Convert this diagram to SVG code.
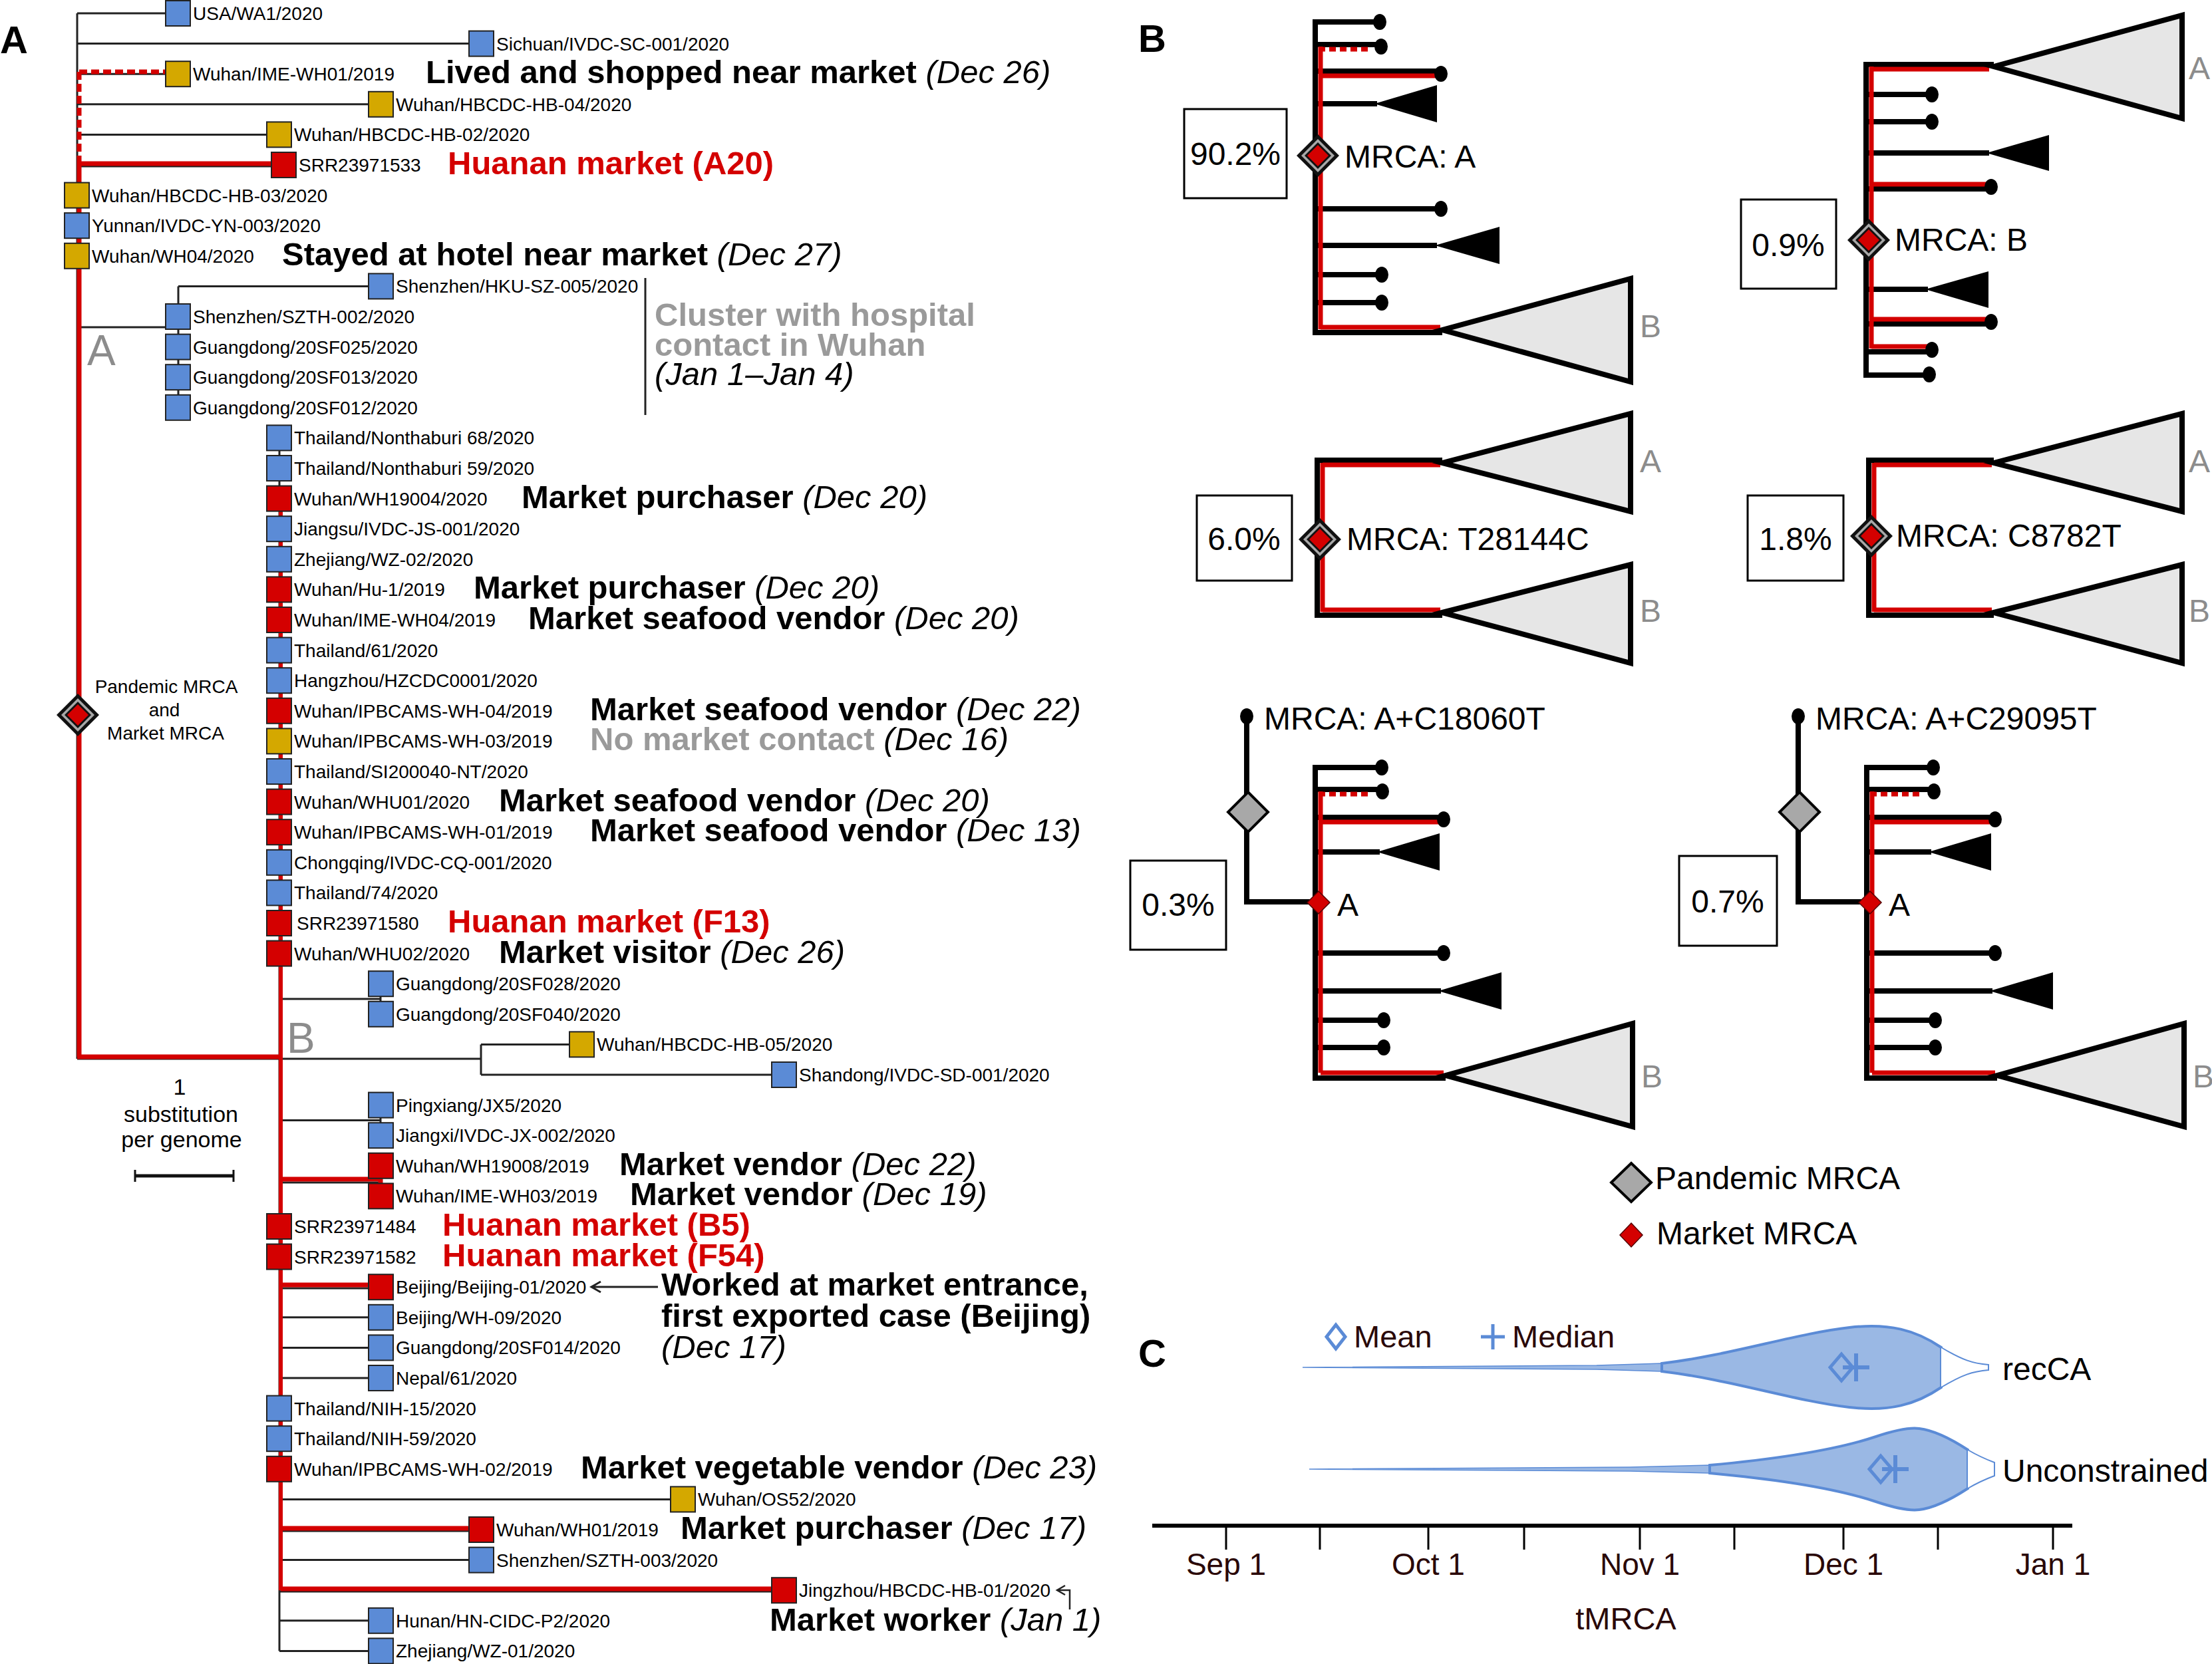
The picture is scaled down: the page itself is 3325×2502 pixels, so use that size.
<svg xmlns="http://www.w3.org/2000/svg" width="3325" height="2502" viewBox="0 0 3325 2502">
<style>
text{font-family:"Liberation Sans",Arial,Helvetica,sans-serif}
.tl{font-size:28px;fill:#000}
.ann{font-size:49px;font-weight:bold;fill:#000}
.it{font-style:italic;font-weight:normal}
.redt{fill:#d40000}
.grayt{fill:#9a9a9a}
.pl{font-size:58px;font-weight:bold;fill:#000}
.big{font-size:64px;fill:#8c8c8c}
.bt{font-size:48px;fill:#000}
.bg{font-size:48px;fill:#8c8c8c}
.ct{font-size:47px;fill:#2a0808}
.sq{stroke:#222;stroke-width:2}
.b{fill:#5b8bd6}.g{fill:#d4a800}.r{fill:#d40000}
.ln{stroke:#222;stroke-width:3;fill:none}
.rl{stroke:#d40000;stroke-width:7;fill:none}
.rd{stroke:#d40000;stroke-width:7;fill:none;stroke-dasharray:12 6}
.bk{stroke:#000;stroke-width:8;fill:none}
.br{stroke:#d40000;stroke-width:7;fill:none}
.brd{stroke:#d40000;stroke-width:7;fill:none;stroke-dasharray:10 6}
.clade{fill:#e6e6e6;stroke:#000;stroke-width:8}
.box{fill:#fff;stroke:#000;stroke-width:3}
.vio{fill:#9ab8e4;stroke:#5b8bd6;stroke-width:4}
.vt{fill:#9ab8e4;stroke:#5b8bd6;stroke-width:1.5}
.vw{fill:#fff;stroke:#5b8bd6;stroke-width:2}
.mk{fill:none;stroke:#5b8bd6;stroke-width:5}
</style>
<defs>
<g id="dmd">
<polygon points="0,-32 32,0 0,32 -32,0" fill="#111"/>
<polygon points="0,-25 25,0 0,25 -25,0" fill="#a8a8a8"/>
<polygon points="0,-20 20,0 0,20 -20,0" fill="#111"/>
<polygon points="0,-16 16,0 0,16 -16,0" fill="#d40000"/>
</g>
</defs>
<rect width="3325" height="2502" fill="#fff"/>

<!-- ============ PANEL A ============ -->
<text class="pl" x="0" y="80">A</text>
<g id="connectorsA">
<path class="ln" d="M116,20 V1592 M116,20 H249 M116,65.6 H705 M116,111.2 H249 M116,156.8 H554 M116,202.4 H401 M116,250 H408 M116,492 H268 M268,430.4 V612.8 M268,430.4 H554 M116,1592 H723 M723,1570.4 V1616 M723,1570.4 H856 M723,1616 H1160 M420,658.4 V2482.4 M420,1502 H572 M572,1479.2 V1524.8 M420,1684.4 H572 M572,1661.6 V1707.2 M420,1778 H572 M572,1752.8 V1798.4 M420,1937 H554 M420,1980.8 H554 M420,2026.4 H554 M420,2072 H554 M420,2254.4 H1008 M420,2302 H705 M420,2345.6 H705 M420,2393 H1160 M420,2436.8 H554 M420,2482.4 H554"/>
<path class="rd" d="M119,108 H249 M119,108 V246"/>
<path class="rl" d="M119,246 V1589 M116,246 H408 M116,1589 H422 M572,1752 V1798 M422,1773 H572 M422,1932 H554 M422,2298 H705 M422,2389 H1160"/>
<path class="rl" style="stroke-width:6" d="M422,749.6 V2391.2"/>
<path class="ln" d="M970,418 V624"/>
<path class="ln" d="M989,1935 H890 M903,1927 L889,1935 L903,1943"/>
<path class="ln" style="stroke-width:2.5" d="M1608,2420 V2391 H1590 M1601,2384 L1589,2391 L1601,2398"/>
<path stroke="#111" stroke-width="5" d="M202,1768 H352"/>
<path stroke="#111" stroke-width="3" d="M203,1759 V1777 M351,1759 V1777"/>
</g>

<g id="taxa">
<g id="t0"><rect class="sq b" x="249" y="1" width="37" height="38"/><text class="tl" x="290" y="30">USA/WA1/2020</text></g>
<g id="t1"><rect class="sq b" x="705" y="46.6" width="37" height="38"/><text class="tl" x="746" y="75.6">Sichuan/IVDC-SC-001/2020</text></g>
<g id="t2"><rect class="sq g" x="249" y="92.2" width="37" height="38"/><text class="tl" x="290" y="121.2">Wuhan/IME-WH01/2019</text></g>
<g id="t3"><rect class="sq g" x="554" y="137.8" width="37" height="38"/><text class="tl" x="595" y="166.8">Wuhan/HBCDC-HB-04/2020</text></g>
<g id="t4"><rect class="sq g" x="401" y="183.4" width="37" height="38"/><text class="tl" x="442" y="212.4">Wuhan/HBCDC-HB-02/2020</text></g>
<g id="t5"><rect class="sq r" x="408" y="229" width="37" height="38"/><text class="tl" x="449" y="258">SRR23971533</text></g>
<g id="t6"><rect class="sq g" x="97" y="274.6" width="37" height="38"/><text class="tl" x="138" y="303.6">Wuhan/HBCDC-HB-03/2020</text></g>
<g id="t7"><rect class="sq b" x="97" y="320.2" width="37" height="38"/><text class="tl" x="138" y="349.2">Yunnan/IVDC-YN-003/2020</text></g>
<g id="t8"><rect class="sq g" x="97" y="365.8" width="37" height="38"/><text class="tl" x="138" y="394.8">Wuhan/WH04/2020</text></g>
<g id="t9"><rect class="sq b" x="554" y="411.4" width="37" height="38"/><text class="tl" x="595" y="440.4">Shenzhen/HKU-SZ-005/2020</text></g>
<g id="t10"><rect class="sq b" x="249" y="457" width="37" height="38"/><text class="tl" x="290" y="486">Shenzhen/SZTH-002/2020</text></g>
<g id="t11"><rect class="sq b" x="249" y="502.6" width="37" height="38"/><text class="tl" x="290" y="531.6">Guangdong/20SF025/2020</text></g>
<g id="t12"><rect class="sq b" x="249" y="548.2" width="37" height="38"/><text class="tl" x="290" y="577.2">Guangdong/20SF013/2020</text></g>
<g id="t13"><rect class="sq b" x="249" y="593.8" width="37" height="38"/><text class="tl" x="290" y="622.8">Guangdong/20SF012/2020</text></g>
<g id="t14"><rect class="sq b" x="401" y="639.4" width="37" height="38"/><text class="tl" x="442" y="668.4">Thailand/Nonthaburi 68/2020</text></g>
<g id="t15"><rect class="sq b" x="401" y="685" width="37" height="38"/><text class="tl" x="442" y="714">Thailand/Nonthaburi 59/2020</text></g>
<g id="t16"><rect class="sq r" x="401" y="730.6" width="37" height="38"/><text class="tl" x="442" y="759.6">Wuhan/WH19004/2020</text></g>
<g id="t17"><rect class="sq b" x="401" y="776.2" width="37" height="38"/><text class="tl" x="442" y="805.2">Jiangsu/IVDC-JS-001/2020</text></g>
<g id="t18"><rect class="sq b" x="401" y="821.8" width="37" height="38"/><text class="tl" x="442" y="850.8">Zhejiang/WZ-02/2020</text></g>
<g id="t19"><rect class="sq r" x="401" y="867.4" width="37" height="38"/><text class="tl" x="442" y="896.4">Wuhan/Hu-1/2019</text></g>
<g id="t20"><rect class="sq r" x="401" y="913" width="37" height="38"/><text class="tl" x="442" y="942">Wuhan/IME-WH04/2019</text></g>
<g id="t21"><rect class="sq b" x="401" y="958.6" width="37" height="38"/><text class="tl" x="442" y="987.6">Thailand/61/2020</text></g>
<g id="t22"><rect class="sq b" x="401" y="1004.2" width="37" height="38"/><text class="tl" x="442" y="1033.2">Hangzhou/HZCDC0001/2020</text></g>
<g id="t23"><rect class="sq r" x="401" y="1049.8" width="37" height="38"/><text class="tl" x="442" y="1078.8">Wuhan/IPBCAMS-WH-04/2019</text></g>
<g id="t24"><rect class="sq g" x="401" y="1095.4" width="37" height="38"/><text class="tl" x="442" y="1124.4">Wuhan/IPBCAMS-WH-03/2019</text></g>
<g id="t25"><rect class="sq b" x="401" y="1141" width="37" height="38"/><text class="tl" x="442" y="1170">Thailand/SI200040-NT/2020</text></g>
<g id="t26"><rect class="sq r" x="401" y="1186.6" width="37" height="38"/><text class="tl" x="442" y="1215.6">Wuhan/WHU01/2020</text></g>
<g id="t27"><rect class="sq r" x="401" y="1232.2" width="37" height="38"/><text class="tl" x="442" y="1261.2">Wuhan/IPBCAMS-WH-01/2019</text></g>
<g id="t28"><rect class="sq b" x="401" y="1277.8" width="37" height="38"/><text class="tl" x="442" y="1306.8">Chongqing/IVDC-CQ-001/2020</text></g>
<g id="t29"><rect class="sq b" x="401" y="1323.4" width="37" height="38"/><text class="tl" x="442" y="1352.4">Thailand/74/2020</text></g>
<g id="t30"><rect class="sq r" x="401" y="1369" width="37" height="38"/><text class="tl" x="446" y="1398">SRR23971580</text></g>
<g id="t31"><rect class="sq r" x="401" y="1414.6" width="37" height="38"/><text class="tl" x="442" y="1443.6">Wuhan/WHU02/2020</text></g>
<g id="t32"><rect class="sq b" x="554" y="1460.2" width="37" height="38"/><text class="tl" x="595" y="1489.2">Guangdong/20SF028/2020</text></g>
<g id="t33"><rect class="sq b" x="554" y="1505.8" width="37" height="38"/><text class="tl" x="595" y="1534.8">Guangdong/20SF040/2020</text></g>
<g id="t34"><rect class="sq g" x="856" y="1551.4" width="37" height="38"/><text class="tl" x="897" y="1580.4">Wuhan/HBCDC-HB-05/2020</text></g>
<g id="t35"><rect class="sq b" x="1160" y="1597" width="37" height="38"/><text class="tl" x="1201" y="1626">Shandong/IVDC-SD-001/2020</text></g>
<g id="t36"><rect class="sq b" x="554" y="1642.6" width="37" height="38"/><text class="tl" x="595" y="1671.6">Pingxiang/JX5/2020</text></g>
<g id="t37"><rect class="sq b" x="554" y="1688.2" width="37" height="38"/><text class="tl" x="595" y="1717.2">Jiangxi/IVDC-JX-002/2020</text></g>
<g id="t38"><rect class="sq r" x="554" y="1733.8" width="37" height="38"/><text class="tl" x="595" y="1762.8">Wuhan/WH19008/2019</text></g>
<g id="t39"><rect class="sq r" x="554" y="1779.4" width="37" height="38"/><text class="tl" x="595" y="1808.4">Wuhan/IME-WH03/2019</text></g>
<g id="t40"><rect class="sq r" x="401" y="1825" width="37" height="38"/><text class="tl" x="442" y="1854">SRR23971484</text></g>
<g id="t41"><rect class="sq r" x="401" y="1870.6" width="37" height="38"/><text class="tl" x="442" y="1899.6">SRR23971582</text></g>
<g id="t42"><rect class="sq r" x="554" y="1916.2" width="37" height="38"/><text class="tl" x="595" y="1945.2">Beijing/Beijing-01/2020</text></g>
<g id="t43"><rect class="sq b" x="554" y="1961.8" width="37" height="38"/><text class="tl" x="595" y="1990.8">Beijing/WH-09/2020</text></g>
<g id="t44"><rect class="sq b" x="554" y="2007.4" width="37" height="38"/><text class="tl" x="595" y="2036.4">Guangdong/20SF014/2020</text></g>
<g id="t45"><rect class="sq b" x="554" y="2053" width="37" height="38"/><text class="tl" x="595" y="2082">Nepal/61/2020</text></g>
<g id="t46"><rect class="sq b" x="401" y="2098.6" width="37" height="38"/><text class="tl" x="442" y="2127.6">Thailand/NIH-15/2020</text></g>
<g id="t47"><rect class="sq b" x="401" y="2144.2" width="37" height="38"/><text class="tl" x="442" y="2173.2">Thailand/NIH-59/2020</text></g>
<g id="t48"><rect class="sq r" x="401" y="2189.8" width="37" height="38"/><text class="tl" x="442" y="2218.8">Wuhan/IPBCAMS-WH-02/2019</text></g>
<g id="t49"><rect class="sq g" x="1008" y="2235.4" width="37" height="38"/><text class="tl" x="1049" y="2264.4">Wuhan/OS52/2020</text></g>
<g id="t50"><rect class="sq r" x="705" y="2281" width="37" height="38"/><text class="tl" x="746" y="2310">Wuhan/WH01/2019</text></g>
<g id="t51"><rect class="sq b" x="705" y="2326.6" width="37" height="38"/><text class="tl" x="746" y="2355.6">Shenzhen/SZTH-003/2020</text></g>
<g id="t52"><rect class="sq r" x="1160" y="2372.2" width="37" height="38"/><text class="tl" x="1201" y="2401.2">Jingzhou/HBCDC-HB-01/2020</text></g>
<g id="t53"><rect class="sq b" x="554" y="2417.8" width="37" height="38"/><text class="tl" x="595" y="2446.8">Hunan/HN-CIDC-P2/2020</text></g>
<g id="t54"><rect class="sq b" x="554" y="2463.4" width="37" height="38"/><text class="tl" x="595" y="2492.4">Zhejiang/WZ-01/2020</text></g>
</g>

<g id="mrcaA">
<use href="#dmd" x="117" y="1075"/>
<text class="tl" x="250" y="1042" text-anchor="middle">Pandemic MRCA</text>
<text class="tl" x="247" y="1077" text-anchor="middle">and</text>
<text class="tl" x="249" y="1112" text-anchor="middle">Market MRCA</text>
</g>
<g id="cladeLabelsA">
<text class="big" x="131" y="549">A</text>
<text class="big" x="431" y="1583">B</text>
</g>
<g id="scalebar">
<text class="tl" style="font-size:34px" x="270" y="1646" text-anchor="middle">1</text>
<text class="tl" style="font-size:34px" x="272" y="1687" text-anchor="middle">substitution</text>
<text class="tl" style="font-size:34px" x="273" y="1725" text-anchor="middle">per genome</text>
</g>

<g id="annotations">
<text class="ann" x="640" y="125.2">Lived and shopped near market <tspan class="it">(Dec 26)</tspan></text>
<text class="ann redt" x="673" y="262">Huanan market (A20)</text>
<text class="ann" x="424" y="398.8">Stayed at hotel near market <tspan class="it">(Dec 27)</tspan></text>
<text class="ann grayt" x="984" y="490">Cluster with hospital</text>
<text class="ann grayt" x="984" y="534.5">contact in Wuhan</text>
<text class="ann it" x="984" y="579">(Jan 1–Jan 4)</text>
<text class="ann" x="784" y="763.6">Market purchaser <tspan class="it">(Dec 20)</tspan></text>
<text class="ann" x="712" y="900.4">Market purchaser <tspan class="it">(Dec 20)</tspan></text>
<text class="ann" x="794" y="946">Market seafood vendor <tspan class="it">(Dec 20)</tspan></text>
<text class="ann" x="887" y="1082.8">Market seafood vendor <tspan class="it">(Dec 22)</tspan></text>
<text class="ann grayt" x="887" y="1128.4">No market contact <tspan class="it" fill="#000">(Dec 16)</tspan></text>
<text class="ann" x="750" y="1219.6">Market seafood vendor <tspan class="it">(Dec 20)</tspan></text>
<text class="ann" x="887" y="1265.2">Market seafood vendor <tspan class="it">(Dec 13)</tspan></text>
<text class="ann redt" x="673" y="1402">Huanan market (F13)</text>
<text class="ann" x="750" y="1447.6">Market visitor <tspan class="it">(Dec 26)</tspan></text>
<text class="ann" x="931" y="1766.8">Market vendor <tspan class="it">(Dec 22)</tspan></text>
<text class="ann" x="947" y="1812.4">Market vendor <tspan class="it">(Dec 19)</tspan></text>
<text class="ann redt" x="665" y="1858">Huanan market (B5)</text>
<text class="ann redt" x="665" y="1903.6">Huanan market (F54)</text>
<text class="ann" x="994" y="1948">Worked at market entrance,</text>
<text class="ann" x="994" y="1995">first exported case (Beijing)</text>
<text class="ann it" x="994" y="2042">(Dec 17)</text>
<text class="ann" x="873" y="2222.8">Market vegetable vendor <tspan class="it">(Dec 23)</tspan></text>
<text class="ann" x="1023" y="2314">Market purchaser <tspan class="it">(Dec 17)</tspan></text>
<text class="ann" x="1157" y="2452">Market worker <tspan class="it">(Jan 1)</tspan></text>
</g>

<!-- ============ PANEL B ============ -->
<text class="pl" x="1711" y="78">B</text>

<g id="b1">
<path class="bk" d="M1977,29 V500 M1973,33 H2074 M1977,67 H2075 M1977,107 H2166 M1977,156 H2070 M1977,314 H2166 M1977,369 H2160 M1977,413 H2077 M1977,455 H2077 M1973,500 H2168"/>
<path class="brd" d="M1982,74 H2062"/>
<path class="br" d="M1985,70 V495 M1985,114 H2160 M1985,492 H2165"/>
<g fill="#000">
<ellipse cx="2074" cy="33" rx="10" ry="12"/><ellipse cx="2076" cy="70" rx="10" ry="12"/><ellipse cx="2166" cy="111" rx="10" ry="12"/><ellipse cx="2166" cy="314" rx="10" ry="12"/><ellipse cx="2077" cy="413" rx="10" ry="12"/><ellipse cx="2077" cy="455" rx="10" ry="12"/>
<polygon points="2066,156 2160,128 2160,184"/><polygon points="2157,369 2254,341 2254,397"/>
</g>
<polygon class="clade" points="2168,496 2451,419 2451,574"/>
<text class="bg" x="2465" y="507">B</text>
<use href="#dmd" x="1981" y="234"/>
<text class="bt" x="2021" y="252">MRCA: A</text>
<rect class="box" x="1780" y="164" width="154" height="134"/>
<text class="bt" x="1857" y="248" text-anchor="middle">90.2%</text>
</g>

<g id="b2">
<path class="bk" d="M2805,93 V568 M2801,97 H2997 M2805,142 H2904 M2805,183 H2904 M2805,230 H2990 M2805,284 H2993 M2805,435 H2898 M2805,487 H2993 M2805,529 H2904 M2801,564 H2900"/>
<path class="br" d="M2813,100 V524 M2813,104 H2990 M2813,277 H2990 M2813,480 H2990 M2813,521 H2900"/>
<g fill="#000">
<ellipse cx="2904" cy="142" rx="10" ry="12"/><ellipse cx="2904" cy="183" rx="10" ry="12"/><ellipse cx="2993" cy="281" rx="10" ry="12"/><ellipse cx="2993" cy="484" rx="10" ry="12"/><ellipse cx="2904" cy="526" rx="10" ry="12"/><ellipse cx="2900" cy="563" rx="10" ry="12"/>
<polygon points="2986,230 3080,203 3080,257"/><polygon points="2894,435 2989,408 2989,463"/>
</g>
<polygon class="clade" points="2997,100 3280,23 3280,178"/>
<text class="bg" x="3290" y="119">A</text>
<use href="#dmd" x="2809" y="361"/>
<text class="bt" x="2848" y="377">MRCA: B</text>
<rect class="box" x="2617" y="300" width="143" height="134"/>
<text class="bt" x="2688" y="385" text-anchor="middle">0.9%</text>
</g>

<g id="b3">
<path class="bk" d="M1980,688 V929 M1976,692 H2168 M1976,925 H2168"/>
<path class="br" d="M1988,696 V920 M1988,699 H2165 M1988,917 H2165"/>
<polygon class="clade" points="2168,696 2451,622 2451,769"/>
<polygon class="clade" points="2168,921 2451,849 2451,997"/>
<text class="bg" x="2465" y="710">A</text>
<text class="bg" x="2465" y="935">B</text>
<use href="#dmd" x="1984" y="811"/>
<text class="bt" x="2024" y="827">MRCA: T28144C</text>
<rect class="box" x="1799" y="745" width="143" height="128"/>
<text class="bt" x="1870" y="827" text-anchor="middle">6.0%</text>
</g>

<g id="b4">
<path class="bk" d="M2809,688 V929 M2805,692 H2997 M2805,925 H2997"/>
<path class="br" d="M2817,696 V920 M2817,699 H2994 M2817,917 H2994"/>
<polygon class="clade" points="2997,696 3280,622 3280,769"/>
<polygon class="clade" points="2997,921 3280,849 3280,997"/>
<text class="bg" x="3290" y="710">A</text>
<text class="bg" x="3290" y="935">B</text>
<use href="#dmd" x="2813" y="806"/>
<text class="bt" x="2850" y="822">MRCA: C8782T</text>
<rect class="box" x="2627" y="745" width="144" height="128"/>
<text class="bt" x="2699" y="827" text-anchor="middle">1.8%</text>
</g>

<g id="b5">
<path class="bk" d="M1874,1077 V1360 M1870,1356 H1977"/>
<ellipse cx="1874" cy="1077" rx="10" ry="12" fill="#000"/>
<polygon points="1876,1191 1906,1221 1876,1251 1846,1221" fill="#a8a8a8" stroke="#000" stroke-width="4"/>
<text class="bt" x="1900" y="1097">MRCA: A+C18060T</text>
<path class="bk" d="M1977,1150 V1621 M1973,1154 H2077 M1977,1187 H2077 M1977,1229 H2170 M1977,1281 H2074 M1977,1433 H2170 M1977,1490 H2166 M1977,1534 H2080 M1977,1575 H2080 M1973,1621 H2173"/>
<path class="brd" d="M1982,1194 H2062"/>
<path class="br" d="M1985,1190 V1613 M1985,1236 H2164 M1985,1613 H2170"/>
<g fill="#000">
<ellipse cx="2077" cy="1154" rx="10" ry="12"/><ellipse cx="2078" cy="1190" rx="10" ry="12"/><ellipse cx="2170" cy="1232" rx="10" ry="12"/><ellipse cx="2170" cy="1433" rx="10" ry="12"/><ellipse cx="2080" cy="1534" rx="10" ry="12"/><ellipse cx="2080" cy="1575" rx="10" ry="12"/>
<polygon points="2070,1281 2164,1253 2164,1309"/><polygon points="2162,1490 2257,1462 2257,1518"/>
</g>
<polygon class="clade" points="2173,1617 2454,1539 2454,1694"/>
<text class="bg" x="2467" y="1635">B</text>
<polygon points="1982,1340 1999,1357 1982,1374 1965,1357" fill="#d40000" stroke="#500" stroke-width="1.5"/>
<text class="bt" x="2010" y="1377">A</text>
<rect class="box" x="1699" y="1294" width="144" height="134"/>
<text class="bt" x="1771" y="1377" text-anchor="middle">0.3%</text>
</g>

<g id="b6">
<g transform="translate(829,0)">
<path class="bk" d="M1874,1077 V1360 M1870,1356 H1977"/>
<ellipse cx="1874" cy="1077" rx="10" ry="12" fill="#000"/>
<polygon points="1876,1191 1906,1221 1876,1251 1846,1221" fill="#a8a8a8" stroke="#000" stroke-width="4"/>
<path class="bk" d="M1977,1150 V1621 M1973,1154 H2077 M1977,1187 H2077 M1977,1229 H2170 M1977,1281 H2074 M1977,1433 H2170 M1977,1490 H2166 M1977,1534 H2080 M1977,1575 H2080 M1973,1621 H2173"/>
<path class="brd" d="M1982,1194 H2062"/>
<path class="br" d="M1985,1190 V1613 M1985,1236 H2164 M1985,1613 H2170"/>
<g fill="#000">
<ellipse cx="2077" cy="1154" rx="10" ry="12"/><ellipse cx="2078" cy="1190" rx="10" ry="12"/><ellipse cx="2170" cy="1232" rx="10" ry="12"/><ellipse cx="2170" cy="1433" rx="10" ry="12"/><ellipse cx="2080" cy="1534" rx="10" ry="12"/><ellipse cx="2080" cy="1575" rx="10" ry="12"/>
<polygon points="2070,1281 2164,1253 2164,1309"/><polygon points="2162,1490 2257,1462 2257,1518"/>
</g>
<polygon class="clade" points="2173,1617 2454,1539 2454,1694"/>
<text class="bg" x="2467" y="1635">B</text>
<polygon points="1982,1340 1999,1357 1982,1374 1965,1357" fill="#d40000" stroke="#500" stroke-width="1.5"/>
<text class="bt" x="2010" y="1377">A</text>
</g>
<text class="bt" x="2729" y="1097">MRCA: A+C29095T</text>
<rect class="box" x="2524" y="1287" width="147" height="135"/>
<text class="bt" x="2597" y="1372" text-anchor="middle">0.7%</text>
</g>

<g id="legendB">
<polygon points="2452,1749 2482,1778 2452,1807 2422,1778" fill="#a8a8a8" stroke="#000" stroke-width="4"/>
<text class="bt" x="2488" y="1788">Pandemic MRCA</text>
<polygon points="2452,1839 2469,1857 2452,1875 2435,1857" fill="#d40000" stroke="#500" stroke-width="1.5"/>
<text class="bt" x="2490" y="1871">Market MRCA</text>
</g>

<!-- ============ PANEL C ============ -->
<text class="pl" x="1711" y="2055">C</text>
<g id="legendC">
<polygon class="mk" points="2008,1992 2022,2010 2008,2028 1994,2010"/>
<text class="ct" x="2035" y="2026">Mean</text>
<path class="mk" d="M2244,1991 V2029 M2226,2010 H2262"/>
<text class="ct" x="2273" y="2026">Median</text>
</g>
<g id="violin-recCA">
<polygon class="vt" points="1958,2056 2400,2053 2498,2050 2498,2062 2400,2059"/>
<path class="vio" d="M2498,2050 C2600,2038 2700,2005 2780,1996 C2840,1989 2880,2000 2918,2026 V2086 C2880,2112 2840,2123 2780,2116 C2700,2107 2600,2074 2498,2062 Z"/>
<path class="vw" d="M2918,2026 C2950,2045 2965,2050 2989,2052 V2060 C2965,2062 2950,2067 2918,2086"/>
<polygon class="mk" points="2768,2036 2785,2056 2768,2076 2751,2056"/>
<path class="mk" style="stroke-width:6" d="M2790,2035 V2077 M2770,2056 H2810"/>
<text class="bt" x="3010" y="2075">recCA</text>
</g>
<g id="violin-unconstrained">
<polygon class="vt" points="1968,2209 2450,2206 2570,2203 2570,2215 2450,2212"/>
<path class="vio" d="M2570,2203 C2680,2193 2760,2180 2820,2160 C2850,2150 2870,2146 2885,2148 C2910,2151 2935,2165 2958,2180 V2238 C2935,2253 2910,2267 2885,2270 C2870,2272 2850,2268 2820,2258 C2760,2238 2680,2225 2570,2215 Z"/>
<path class="vw" d="M2958,2180 C2975,2190 2990,2196 2998,2199 V2219 C2990,2222 2975,2228 2958,2238"/>
<polygon class="mk" points="2827,2189 2844,2209 2827,2229 2810,2209"/>
<path class="mk" style="stroke-width:6" d="M2849,2188 V2230 M2829,2209 H2869"/>
<text class="bt" x="3010" y="2228">Unconstrained</text>
</g>
<g id="axisC">
<path stroke="#000" stroke-width="6" d="M1732,2294 H3115"/>
<path stroke="#000" stroke-width="3" d="M1843,2296 V2330 M1984,2296 V2330 M2147,2296 V2330 M2291,2296 V2330 M2465,2296 V2330 M2607,2296 V2330 M2771,2296 V2330 M2913,2296 V2330 M3086,2296 V2330"/>
<g class="ct" text-anchor="middle" style="font-size:46px">
<text x="1843" y="2368">Sep 1</text>
<text x="2147" y="2368">Oct 1</text>
<text x="2465" y="2368">Nov 1</text>
<text x="2771" y="2368">Dec 1</text>
<text x="3086" y="2368">Jan 1</text>
</g>
<text class="ct" x="2444" y="2450" text-anchor="middle">tMRCA</text>
</g>
</svg>
